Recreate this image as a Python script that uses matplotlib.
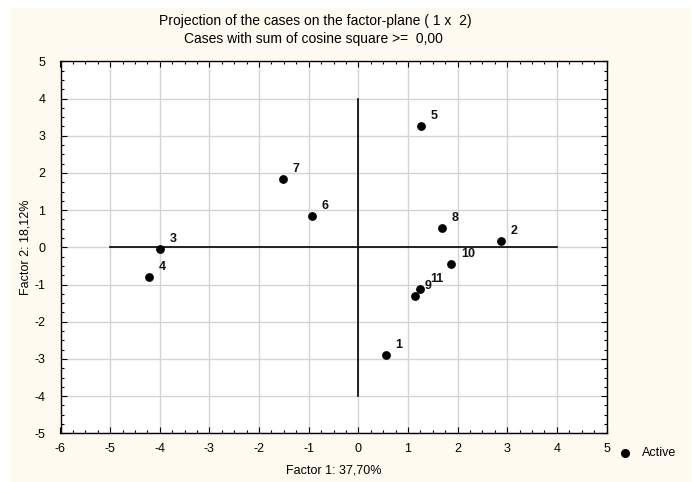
import matplotlib
matplotlib.use('Agg')
import matplotlib.pyplot as plt
from matplotlib.ticker import MultipleLocator
from matplotlib.patches import Rectangle

plt.rcParams['font.family'] = ['Liberation Sans', 'DejaVu Sans']
plt.rcParams['axes.unicode_minus'] = False

####### data #######
case_ids = ['1', '2', '3', '4', '5', '6', '7', '8', '9', '10', '11']
factor1 = [0.55, 2.88, -4.00, -4.21, 1.26, -0.94, -1.52, 1.68, 1.15, 1.87, 1.25]
factor2 = [-2.90, 0.16, -0.05, -0.79, 3.26, 0.84, 1.84, 0.52, -1.32, -0.44, -1.12]
x_ticks = [-6, -5, -4, -3, -2, -1, 0, 1, 2, 3, 4, 5]
y_ticks = [-5, -4, -3, -2, -1, 0, 1, 2, 3, 4, 5]

bg = '#fefaf0'
W, H = 692, 482

fig = plt.figure(figsize=(W / 100, H / 100), dpi=100, facecolor='white')
# cream panel with thin white margin at top / left
fig.patches.append(Rectangle((10 / W, 0), (W - 11) / W, 1 - 8 / H, transform=fig.transFigure,
                             facecolor=bg, edgecolor='none', zorder=-10))

ax = fig.add_axes([60.5 / W, 1 - 433.3 / H, 546 / W, 372 / H])
ax.set_facecolor('white')

ax.set_xlim(-6, 5)
ax.set_ylim(-5, 5)
ax.set_xticks(x_ticks)
ax.set_yticks(y_ticks)
ax.xaxis.set_minor_locator(MultipleLocator(0.25))
ax.yaxis.set_minor_locator(MultipleLocator(0.25))
ax.grid(True, which='major', color='#d4d4d4', linewidth=1.0, zorder=0)
ax.tick_params(which='both', direction='in', top=True, right=True, labelsize=9,
               color='black', width=0.8)
ax.tick_params(which='major', length=4)
ax.tick_params(axis='x', which='major', pad=7)
ax.tick_params(axis='y', which='major', pad=11)
ax.tick_params(which='minor', length=2)
for s in ax.spines.values():
    s.set_linewidth(1.0)

# cross lines through origin
ax.plot([-5, 4], [0, 0], color='black', linewidth=1.2, zorder=2)
ax.plot([0, 0], [-4, 4], color='black', linewidth=1.2, zorder=2)

ax.scatter(factor1, factor2, s=28, color='black', zorder=3, clip_on=False)
for lab, xx, yy in zip(case_ids, factor1, factor2):
    ax.annotate(lab, (xx, yy), xytext=(7, 5), textcoords='offset points',
                fontsize=9, fontweight='bold', color='#111111', zorder=4)

ax.set_xlabel('Factor 1: 37,70%', fontsize=9)
ax.xaxis.set_label_coords(0.5, -0.085)
ax.set_ylabel('Factor 2: 18,12%', fontsize=9)
ax.yaxis.set_label_coords(-0.054, 0.5)

fig.text(315 / W, 1 - 21 / H, 'Projection of the cases on the factor-plane ( 1 x  2)',
         ha='center', va='center', fontsize=10)
fig.text(313.5 / W, 1 - 39 / H, 'Cases with sum of cosine square >=  0,00',
         ha='center', va='center', fontsize=10)

# legend outside, bottom right
fig.lines.append(plt.Line2D([625 / W], [1 - 453 / H], marker='o', markersize=5.5,
                            color='black', linestyle='none', transform=fig.transFigure))
fig.text(642 / W, 1 - 453 / H, 'Active', ha='left', va='center', fontsize=9)

fig.savefig('out.png', dpi=100, facecolor='white')
